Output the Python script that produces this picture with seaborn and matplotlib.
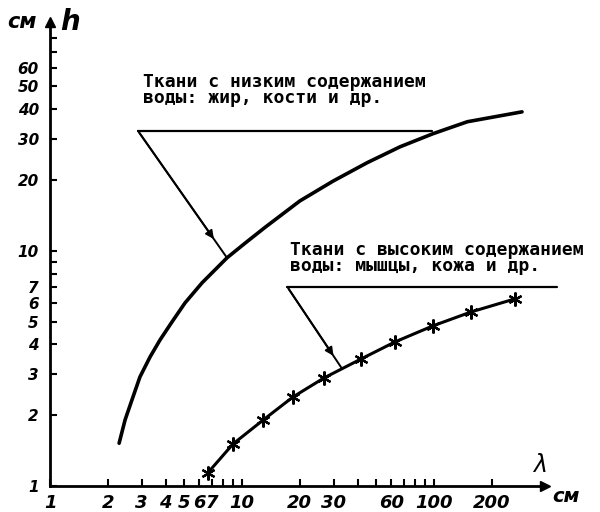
import numpy as np
import pandas as pd
import matplotlib
matplotlib.use("Agg")
import matplotlib.pyplot as plt
from matplotlib.ticker import FixedLocator, FixedFormatter, NullFormatter
import seaborn as sns

# ---- data ----
low_lambda = [2.29, 2.46, 2.67, 2.94, 3.32, 3.74, 4.32, 5.05, 6.19, 8.35, 10.4, 13.2,
              20.0, 29.8, 44.8, 66.5, 98.8, 149, 287]
low_h      = [1.52, 1.91, 2.32, 2.91, 3.54, 4.18, 4.99, 6.01, 7.31, 9.34, 10.8, 12.6,
              16.3, 19.8, 23.7, 27.7, 31.5, 35.4, 39.0]

high_lambda = [6.65, 8.98, 12.9, 18.4, 26.7, 41.7, 62.6, 98.8, 156, 264]
high_h      = [1.14, 1.51, 1.91, 2.39, 2.88, 3.47, 4.10, 4.80, 5.50, 6.25]

x_major = [1, 2, 3, 4, 5, 6, 7, 10, 20, 30, 60, 100, 200]
x_minor = [8, 9, 40, 50, 70, 80, 90]
y_major = [1, 2, 3, 4, 5, 6, 7, 10, 20, 30, 40, 50, 60]
y_minor = [8, 9, 70, 80]

label_low = "Ткани с низким содержанием\nводы: жир, кости и др."
label_high = "Ткани с высоким содержанием\nводы: мышцы, кожа и др."

sns.set_style("white")
plt.rcParams['font.family'] = ['DejaVu Sans']
plt.rcParams['text.color'] = 'black'
plt.rcParams['xtick.color'] = 'black'
plt.rcParams['ytick.color'] = 'black'

df_low = pd.DataFrame({"lam": low_lambda, "h": low_h})
df_high = pd.DataFrame({"lam": high_lambda, "h": high_h})

fig = plt.figure(figsize=(6, 5.12), dpi=100)
ax = fig.add_axes([50/600, 26/512, 495/600, 464/512])
ax.set_xscale("log")
ax.set_yscale("log")

sns.lineplot(data=df_low, x="lam", y="h", color="black", lw=2.6, sort=False, ax=ax)
sns.lineplot(data=df_high, x="lam", y="h", color="black", lw=2.2, sort=False, ax=ax,
             marker=(6, 2, 0), markersize=10, markeredgewidth=1.6, markeredgecolor="black")

ax.set_xlim(1, 378)
ax.set_ylim(1, 94)

for s in ["top", "right"]:
    ax.spines[s].set_visible(False)
for s in ["left", "bottom"]:
    ax.spines[s].set_linewidth(2.0)
    ax.spines[s].set_color("black")

# arrows on axes ends
ax.plot(1, 0, ">k", ms=7, transform=ax.transAxes, clip_on=False)
ax.plot(0, 1, "^k", ms=7, transform=ax.transAxes, clip_on=False)

ax.xaxis.set_major_locator(FixedLocator(x_major))
ax.xaxis.set_major_formatter(FixedFormatter([str(v) for v in x_major]))
ax.xaxis.set_minor_locator(FixedLocator(x_minor))
ax.xaxis.set_minor_formatter(NullFormatter())
ax.yaxis.set_major_locator(FixedLocator(y_major))
ax.yaxis.set_major_formatter(FixedFormatter([str(v) for v in y_major]))
ax.yaxis.set_minor_locator(FixedLocator(y_minor))
ax.yaxis.set_minor_formatter(NullFormatter())
ax.tick_params(axis="both", which="both", direction="in", length=5, width=1.5,
               color="black", bottom=True, left=True)
ax.tick_params(axis="x", pad=6)
ax.tick_params(axis="y", pad=8)
for lab in ax.get_xticklabels():
    lab.set_fontstyle("italic")
    lab.set_fontweight("bold")
    lab.set_fontsize(13)
for lab in ax.get_yticklabels():
    lab.set_fontstyle("italic")
    lab.set_fontweight("bold")
    lab.set_fontsize(11)
ax.set_xlabel("")
ax.set_ylabel("")

# axis names
fig.text(22/600, 1 - 22/512, "см", fontsize=15, fontstyle="italic", fontweight="bold",
         ha="center", va="center")
fig.text(70/600, 1 - 22/512, "h", fontsize=20, fontstyle="italic", fontweight="bold",
         ha="center", va="center")
fig.text(540/600, 1 - 465/512, "λ", fontsize=17, fontstyle="italic",
         ha="center", va="center")
fig.text(566/600, 1 - 497/512, "см", fontsize=14, fontstyle="italic", fontweight="bold",
         ha="center", va="center")

mono = dict(family="DejaVu Sans Mono", fontsize=13, fontweight="bold", linespacing=0.85,
            color="black")

# annotation 1 (low water content)
ax.text(3.05, 57, label_low, ha="left", va="top", **mono)
y1 = 32.4
ax.plot([2.87, 97.6], [y1, y1], color="black", lw=1.6)
start1 = np.array([2.87, y1]); end1 = np.array([low_lambda[9], low_h[9]])
ax.plot([start1[0], end1[0]], [start1[1], end1[1]], color="black", lw=1.4)
f = 0.87
head1 = 10 ** (np.log10(start1) + f * (np.log10(end1) - np.log10(start1)))
ax.annotate("", xy=head1, xytext=start1,
            arrowprops=dict(arrowstyle="-|>", color="black", lw=1.4, mutation_scale=12))

# annotation 2 (high water content)
ax.text(17.8, 11.0, label_high, ha="left", va="top", **mono)
y2 = 7.03
ax.plot([17.2, 437], [y2, y2], color="black", lw=1.6, clip_on=False)
start2 = np.array([17.2, y2]); end2 = np.array([33.2, 3.15])
ax.plot([start2[0], end2[0]], [start2[1], end2[1]], color="black", lw=1.4)
head2 = 10 ** (np.log10(start2) + f * (np.log10(end2) - np.log10(start2)))
ax.annotate("", xy=head2, xytext=start2,
            arrowprops=dict(arrowstyle="-|>", color="black", lw=1.4, mutation_scale=12))

fig.savefig("out.png", dpi=100)
